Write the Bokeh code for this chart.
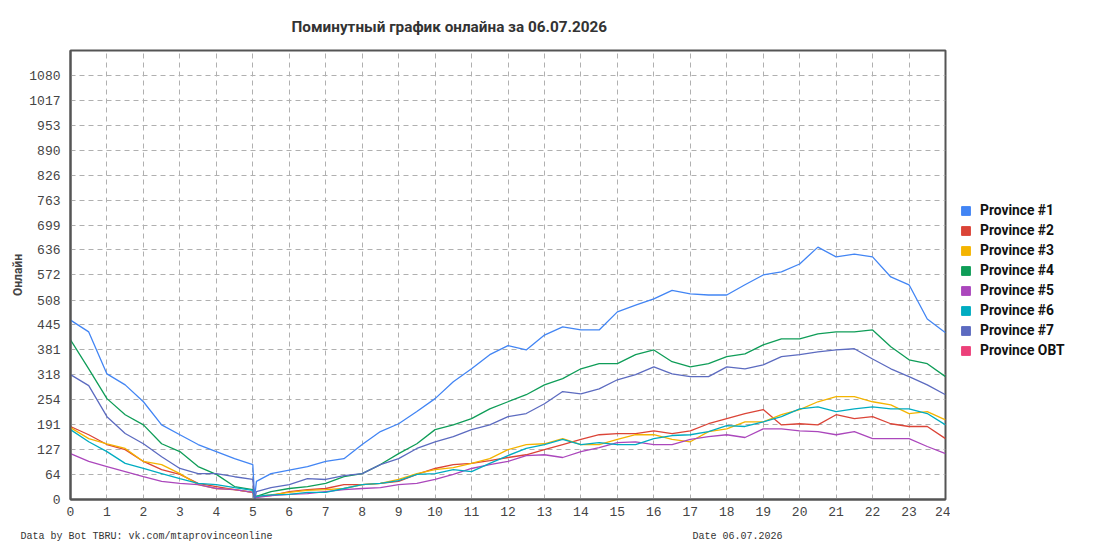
from bokeh.plotting import figure
from bokeh.layouts import row, column
from bokeh.models import FixedTicker, Range1d, Legend, LegendItem, Title, Label
from bokeh.embed import file_html
from bokeh.resources import INLINE

title_text = "Поминутный график онлайна за 06.07.2026"
y_axis_title = "Онлайн"
footer_left = "Data by Bot TBRU: vk.com/mtaprovinceonline"
footer_right = "Date 06.07.2026"

x_ticks = list(range(25))
y_ticks = [0, 64, 127, 191, 254, 318, 381, 445, 508, 572, 636, 699, 763, 826, 890, 953, 1017, 1080]
y_max = 1143.9

hours = [0, 0.5, 1, 1.5, 2, 2.5, 3, 3.5, 4, 4.5, 5, 5.05, 5.1, 5.5,
         6, 6.5, 7, 7.5, 8, 8.5, 9, 9.5, 10, 10.5, 11, 11.5, 12, 12.5,
         13, 13.5, 14, 14.5, 15, 15.5, 16, 16.5, 17, 17.5, 18, 18.5,
         19, 19.5, 20, 20.5, 21, 21.5, 22, 22.5, 23, 23.5, 24]

province_1 = [457, 427, 320, 292, 249, 190, 165, 140, 122, 104, 89, 5, 46, 66,
              75, 84, 97, 104, 140, 173, 193, 224, 257, 300, 333, 369, 392, 381,
              419, 440, 432, 432, 478, 495, 511, 533, 524, 521, 521, 547,
              572, 580, 600, 643, 618, 625, 618, 567, 547, 460, 425]
province_2 = [186, 165, 140, 127, 97, 76, 64, 41, 33, 25, 18, 3, 8, 10,
              20, 25, 28, 38, 38, 41, 46, 64, 79, 89, 92, 99, 107, 114,
              127, 140, 153, 165, 168, 168, 175, 168, 175, 193, 206, 219,
              229, 190, 193, 190, 216, 206, 211, 193, 186, 186, 155]
province_3 = [183, 155, 142, 130, 97, 89, 66, 38, 28, 25, 18, 3, 8, 12,
              18, 23, 25, 28, 38, 41, 51, 66, 76, 81, 92, 104, 127, 140,
              142, 155, 140, 140, 153, 165, 165, 153, 147, 173, 180, 198,
              198, 216, 229, 249, 262, 262, 249, 241, 219, 224, 203]
province_4 = [407, 333, 257, 216, 190, 142, 122, 84, 64, 33, 25, 3, 8, 20,
              28, 33, 41, 58, 66, 89, 117, 142, 178, 190, 206, 231, 249, 267,
              292, 308, 333, 346, 346, 369, 381, 351, 338, 346, 364, 371,
              394, 409, 409, 422, 427, 427, 432, 389, 356, 346, 313]
province_5 = [117, 97, 84, 71, 58, 46, 41, 38, 28, 25, 18, 3, 5, 10,
              13, 15, 20, 25, 28, 30, 38, 41, 51, 64, 79, 89, 97, 112,
              114, 107, 122, 132, 145, 147, 140, 140, 153, 160, 165, 158,
              180, 180, 175, 173, 165, 173, 155, 155, 155, 135, 117]
province_6 = [178, 147, 122, 92, 79, 66, 53, 41, 38, 30, 23, 3, 8, 12,
              13, 18, 18, 28, 38, 41, 48, 64, 66, 76, 71, 92, 112, 130,
              140, 153, 140, 145, 140, 140, 155, 163, 165, 173, 188, 186,
              198, 211, 231, 236, 224, 231, 236, 231, 231, 219, 190]
province_7 = [318, 290, 211, 168, 142, 109, 79, 66, 66, 58, 51, 0, 20, 30,
              38, 53, 51, 61, 66, 89, 104, 130, 147, 160, 178, 190, 211, 219,
              244, 275, 269, 282, 305, 318, 338, 320, 313, 313, 338, 333,
              343, 364, 369, 376, 381, 384, 358, 333, 313, 292, 267]
province_obt = [0] * len(hours)

series_names = ["Province #1", "Province #2", "Province #3", "Province #4",
                "Province #5", "Province #6", "Province #7", "Province OBT"]
series_values = [province_1, province_2, province_3, province_4,
                 province_5, province_6, province_7, province_obt]
series_colors = ["#4285F4", "#DB4437", "#F4B400", "#0F9D58",
                 "#AB47BC", "#00ACC1", "#5C6BC0", "#EC407A"]
series_shown = [True, True, True, True, True, True, True, False]

# ---------------- main chart ----------------
p = figure(width=950, height=525, output_backend="svg", toolbar_location=None,
           x_range=Range1d(0, 24), y_range=Range1d(0, y_max),
           min_border_left=70, min_border_right=5,
           min_border_top=50, min_border_bottom=26)
p.background_fill_color = "white"
p.border_fill_color = "white"
p.outline_line_color = "#555555"
p.outline_line_width = 2

for ax in (p.xaxis[0], p.yaxis[0]):
    ax.axis_line_color = "#555555"
    ax.axis_line_width = 2
    ax.major_tick_in = 0
    ax.major_tick_out = 0
    ax.minor_tick_in = 0
    ax.minor_tick_out = 0
    ax.major_label_text_font = "Liberation Mono"
    ax.major_label_text_font_size = "13px"
    ax.major_label_text_color = "#444444"

p.xaxis.ticker = FixedTicker(ticks=x_ticks)
p.yaxis.ticker = FixedTicker(ticks=y_ticks)
p.xaxis.major_label_standoff = 7
p.yaxis.major_label_standoff = 10
p.yaxis.axis_label = y_axis_title
p.yaxis.axis_label_text_font = "Roboto"
p.yaxis.axis_label_text_font_style = "bold"
p.yaxis.axis_label_text_font_size = "12px"
p.yaxis.axis_label_text_color = "#444444"
p.yaxis.axis_label_standoff = 1

for g in (p.xgrid[0], p.ygrid[0]):
    g.grid_line_color = "#b0b0b0"
    g.grid_line_dash = "5 4"
    g.grid_line_width = 1

for vals, col, shown in zip(series_values, series_colors, series_shown):
    p.line(hours, vals, line_color=col, line_width=1.3, visible=shown)

p.add_layout(Title(text=title_text, align="left", offset=221,
                   text_font="Roboto", text_font_style="bold",
                   text_font_size="15.3px", text_color="#333333",
                   standoff=30), "above")

# ---------------- legend panel ----------------
lg = figure(width=142, height=525, output_backend="svg", toolbar_location=None,
            x_axis_location=None, y_axis_location=None,
            x_range=Range1d(0, 1), y_range=Range1d(0, 1),
            min_border_left=0, min_border_right=0,
            min_border_top=0, min_border_bottom=0)
lg.outline_line_color = None
lg.xgrid.visible = False
lg.ygrid.visible = False
lg.background_fill_color = "white"
lg.border_fill_color = "white"

items = []
for name, vals, col in zip(series_names, series_values, series_colors):
    sw = lg.block(x=[hours[0]], y=[vals[0]], width=0, height=0,
                  fill_color=col, line_color=col, visible=False)
    items.append(LegendItem(label=name, renderers=[sw]))

legend = Legend(items=items, location=(10, 139), orientation="vertical",
                margin=0, padding=0, spacing=0,
                glyph_width=11, glyph_height=11, label_height=20,
                label_standoff=9, label_text_font="Roboto",
                label_text_font_style="bold", label_text_font_size="13.8px",
                label_text_color="#111111",
                inactive_fill_alpha=0,
                border_line_alpha=0, background_fill_alpha=0)
lg.add_layout(legend)

# ---------------- footer ----------------
ft = figure(width=1092, height=22, output_backend="svg", toolbar_location=None,
            x_axis_location=None, y_axis_location=None,
            x_range=Range1d(0, 1), y_range=Range1d(0, 1),
            min_border_left=0, min_border_right=0,
            min_border_top=0, min_border_bottom=0)
ft.outline_line_color = None
ft.xgrid.visible = False
ft.ygrid.visible = False
ft.add_layout(Label(x=20, y=11, x_units="screen", y_units="screen",
                    text=footer_left, text_font="Liberation Mono",
                    text_font_size="10px", text_color="#333333",
                    text_align="left", text_baseline="middle"))
ft.add_layout(Label(x=692, y=11, x_units="screen", y_units="screen",
                    text=footer_right, text_font="Liberation Mono",
                    text_font_size="10px", text_color="#333333",
                    text_align="left", text_baseline="middle"))

layout = column(row(p, lg), ft)
open("out.html", "w").write(file_html(layout, INLINE))
